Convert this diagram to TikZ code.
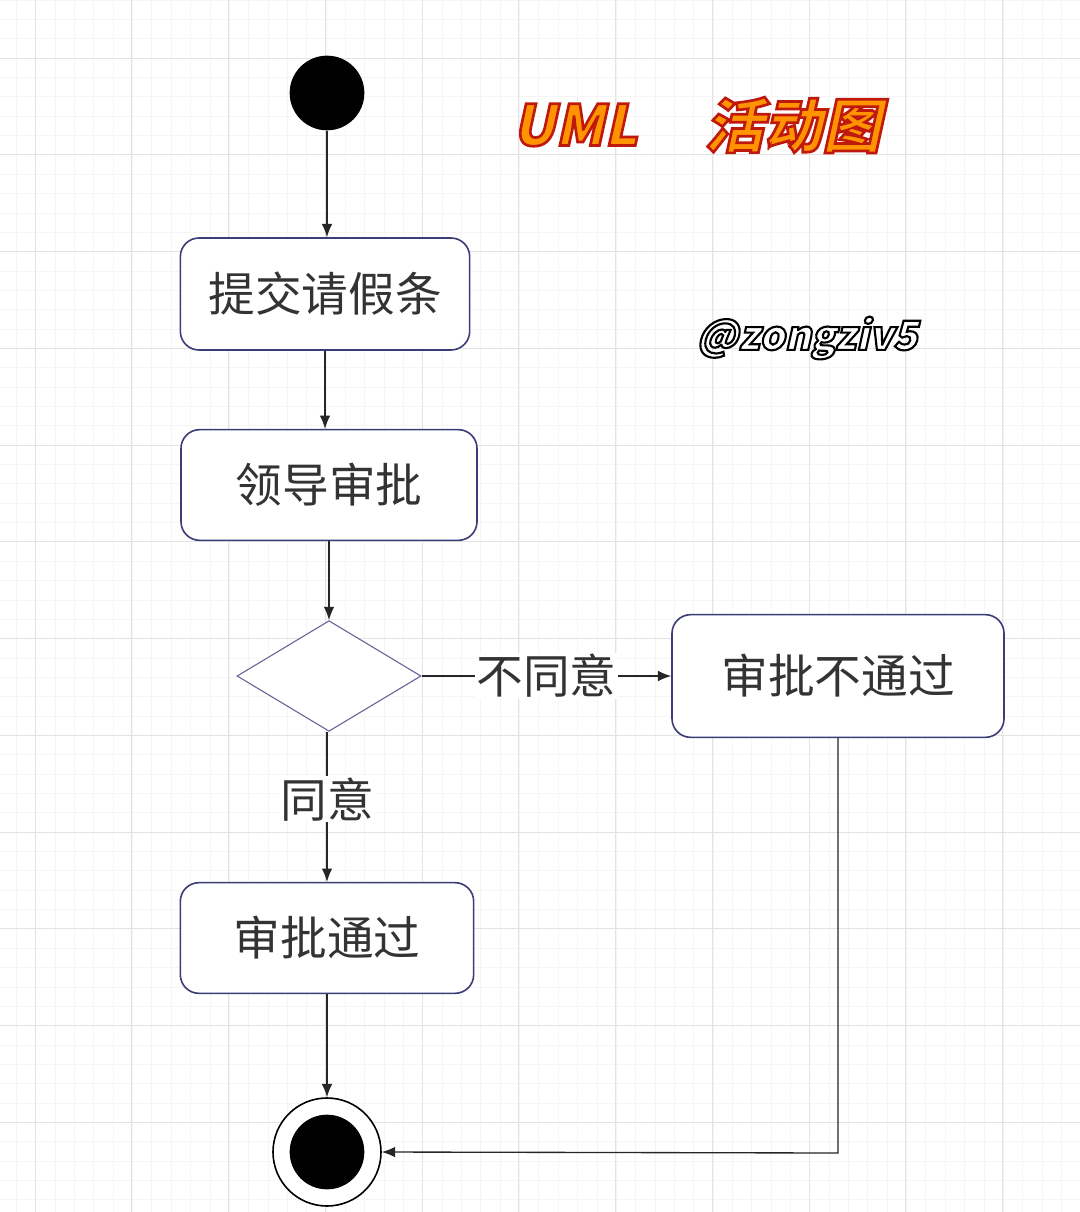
\documentclass[tikz,border=0pt]{standalone}
\usepackage{fontspec}
\newfontfamily\cjk{Noto Sans CJK SC}
\newfontfamily\cjkb{Noto Sans CJK SC Bold}
\newfontfamily\cjkbi[FakeSlant=0.22]{Noto Sans CJK SC Black}
\usetikzlibrary{shapes.geometric,arrows.meta}
\definecolor{bd}{HTML}{3C3C78}
\definecolor{tx}{HTML}{333333}
\newcommand{\outl}[3]{\special{pdf:literal direct 2 Tr #1 w #2 RG}#3\special{pdf:literal direct 0 Tr}}
\tikzset{box/.style={draw=bd,line width=1.2pt,rounded corners=14pt,fill=white,text=tx,font=\cjk\fontsize{35}{35}\selectfont},
conn/.style={draw=black!85,line width=1pt,-{Latex[length=10pt,width=8pt]}},
lab/.style={text=tx,font=\cjk\fontsize{35}{35}\selectfont,fill=white,inner sep=1pt}}
\begin{document}
\begin{tikzpicture}[x=0.75pt,y=-0.75pt]
\useasboundingbox (0,0) rectangle (1080,1212);
\fill[white] (0,0) rectangle (1080,1212);
\foreach \i in {0,...,56}{\draw[black!4,line width=0.5pt] (\i*19.35-3,0)--(\i*19.35-3,1212);}
\foreach \i in {0,...,63}{\draw[black!4,line width=0.5pt] (0,\i*19.35+0)--(1080,\i*19.35+0);}
\foreach \i in {0,...,11}{\draw[black!11,line width=0.7pt] (\i*96.75+35,0)--(\i*96.75+35,1212);}
\foreach \i in {0,...,12}{\draw[black!11,line width=0.7pt] (0,\i*96.75+58)--(1080,\i*96.75+58);}
\node[circle,fill=black,minimum size=56pt,inner sep=0] (start) at (327,93) {};
\node[box,minimum width=217pt,minimum height=84pt] (b1) at (325,294) {提交请假条};
\node[box,minimum width=222pt,minimum height=83pt] (b2) at (329,485) {领导审批};
\node[diamond,draw=bd!80,line width=0.8pt,aspect=1.66,minimum width=138pt,minimum height=83pt,inner sep=0,fill=white] (d) at (329,676) {};
\node[box,minimum width=249pt,minimum height=92pt] (b3) at (838,676) {审批不通过};
\node[box,minimum width=220pt,minimum height=83pt] (b4) at (327,938) {审批通过};
\node[circle,draw=black,line width=1.2pt,minimum size=81pt,inner sep=0,fill=white] (end) at (327,1152) {};
\node[circle,fill=black,minimum size=56pt,inner sep=0] (endin) at (327,1152) {};
\draw[conn] (start) -- (start |- b1.north);
\draw[conn] (b1) -- (b1 |- b2.north);
\draw[conn] (b2) -- (d);
\draw[conn] (d) -- node[lab] (l1) {不同意} (b3);
\draw[conn] (d.south -| b4) -- node[lab,pos=0.45] (l2) {同意} (b4);
\draw[conn] (b4) -- (end);
\coordinate (c1) at (838,1153);
\draw[conn] (b3.south) -- (c1) -- (end.east);
\node[text=orange!85!yellow,font=\cjkbi\fontsize{42}{42}\selectfont] (t1) at (575,125) {\outl{2}{0.75 0.1 0.05}{UML}};
\node[text=orange!85!yellow,font=\cjkbi\fontsize{44}{44}\selectfont] (t2) at (793,125) {\outl{2}{0.75 0.1 0.05}{活动图}};
\node[text=white,font=\cjkbi\fontsize{30}{30}\selectfont] (t3) at (807,338) {\outl{1.6}{0 0 0}{@zongziv5}};
\end{tikzpicture}
\end{document}
